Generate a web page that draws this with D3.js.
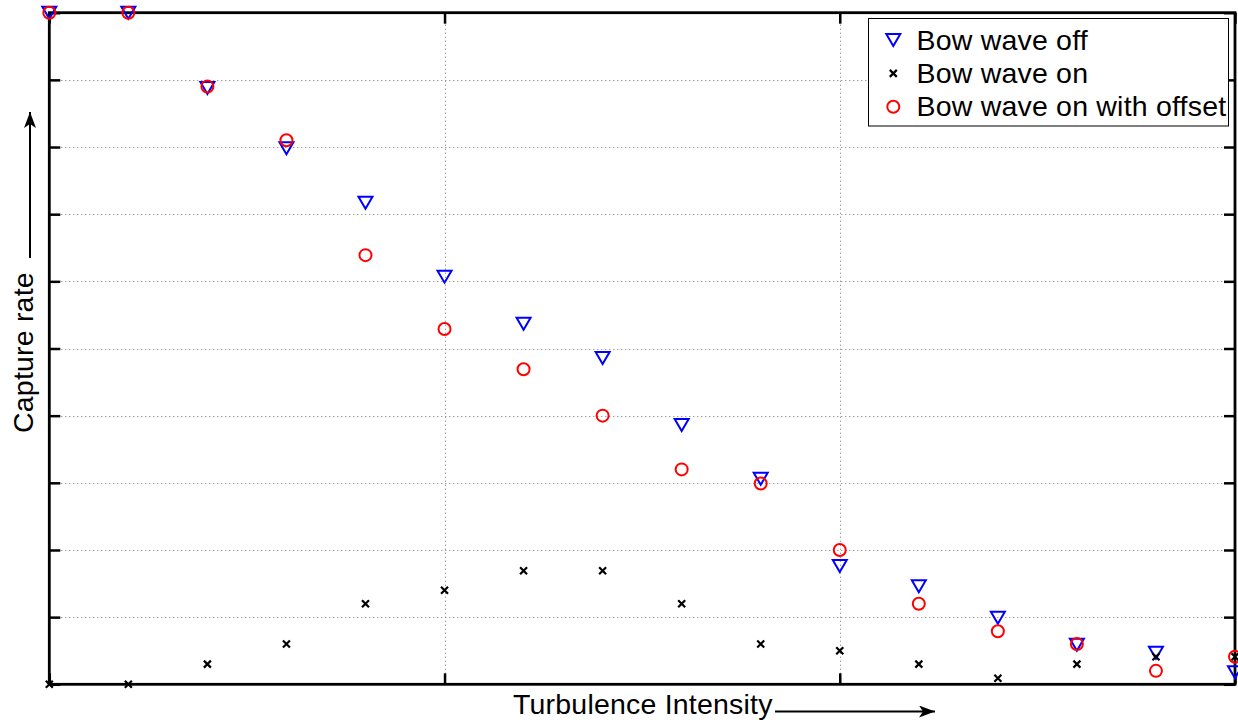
<!DOCTYPE html>
<html>
<head>
<meta charset="utf-8">
<script src="https://cdn.jsdelivr.net/npm/d3@7"></script>
<style>
  html, body { margin: 0; padding: 0; background: #fff; }
  svg { display: block; font-family: "Liberation Sans", Arial, Helvetica, sans-serif; }
  text { letter-spacing: 0.2px; }
</style>
</head>
<body>
<svg id="chart" width="1238" height="723"></svg>
<script>
// Capture rate against turbulence intensity, three bow-wave configurations
const steps = d3.range(16); // turbulence intensity steps
const bowWaveOff = [1.00, 1.00, 0.888, 0.798, 0.717, 0.607, 0.537, 0.486, 0.386, 0.306, 0.176, 0.146, 0.099, 0.059, 0.047, 0.018];
const bowWaveOn = [0.000, 0.000, 0.030, 0.060, 0.120, 0.140, 0.169, 0.169, 0.120, 0.060, 0.050, 0.030, 0.009, 0.030, 0.041, 0.041];
const bowWaveOffset = [1.00, 1.00, 0.890, 0.810, 0.639, 0.529, 0.469, 0.400, 0.320, 0.299, 0.200, 0.120, 0.079, 0.060, 0.020, 0.041];
const xTicks = [0, 5, 10, 15];
const yTicks = d3.range(0, 11).map(d => d / 10);
const seriesNames = ["Bow wave off", "Bow wave on", "Bow wave on with offset"];

const svg = d3.select("#chart");
const plotL = 49.3, plotR = 1235, plotT = 12.7, plotB = 684.3;
const fontSize = 28.5;

const x = d3.scaleLinear().domain([0, 15]).range([plotL, plotR]);
const y = d3.scaleLinear().domain([0, 1]).range([plotB, plotT]);

// dotted grid
const grid = svg.append("g").attr("stroke", "#777").attr("stroke-width", 1).attr("stroke-dasharray", "1,3");
grid.selectAll("line.h").data(yTicks.slice(1, -1)).join("line")
  .attr("x1", plotL).attr("x2", plotR)
  .attr("y1", d => Math.round(y(d)) + 0.5).attr("y2", d => Math.round(y(d)) + 0.5);
grid.selectAll("line.v").data(xTicks.slice(1, -1)).join("line")
  .attr("y1", plotT).attr("y2", plotB)
  .attr("x1", d => Math.round(x(d)) + 0.5).attr("x2", d => Math.round(x(d)) + 0.5);

// axes with inward ticks on all four sides, no labels
const tickLen = 11;
const axL = d3.axisLeft(y).tickValues(yTicks).tickSize(-tickLen).tickFormat("");
const axR = d3.axisRight(y).tickValues(yTicks).tickSize(-tickLen).tickFormat("");
const axB = d3.axisBottom(x).tickValues(xTicks).tickSize(-tickLen).tickFormat("");
const axT = d3.axisTop(x).tickValues(xTicks).tickSize(-tickLen).tickFormat("");
function styleAxis(g) {
  g.select(".domain").remove();
  g.selectAll(".tick line").attr("stroke", "#000").attr("stroke-width", 2.5);
}
svg.append("g").attr("transform", `translate(${plotL},0)`).call(axL).call(styleAxis);
svg.append("g").attr("transform", `translate(${plotR},0)`).call(axR).call(styleAxis);
svg.append("g").attr("transform", `translate(0,${plotB})`).call(axB).call(styleAxis);
svg.append("g").attr("transform", `translate(0,${plotT})`).call(axT).call(styleAxis);
svg.append("rect")
  .attr("x", plotL).attr("y", plotT).attr("width", plotR - plotL).attr("height", plotB - plotT)
  .attr("fill", "none").attr("stroke", "#000").attr("stroke-width", 2.8);

// marker shapes
const triPath = "M-7,-6L7,-6L0,6Z";
const crossPath = "M-3.5,-3.5L3.5,3.5M-3.5,3.5L3.5,-3.5";
function drawTri(g) { g.append("path").attr("d", triPath).attr("fill", "none").attr("stroke", "#0000ff").attr("stroke-width", 2); }
function drawCross(g) { g.append("path").attr("d", crossPath).attr("fill", "none").attr("stroke", "#000").attr("stroke-width", 2.2); }
function drawCirc(g) { g.append("circle").attr("r", 6).attr("fill", "none").attr("stroke", "#ff0000").attr("stroke-width", 2); }
const drawers = [drawTri, drawCross, drawCirc];
const seriesData = [bowWaveOff, bowWaveOn, bowWaveOffset];

seriesData.forEach((vals, si) => {
  const g = svg.append("g");
  g.selectAll("g").data(steps).join("g")
    .attr("transform", i => `translate(${x(i)},${y(vals[i])})`)
    .each(function () { drawers[si](d3.select(this)); });
});

// legend
const lg = svg.append("g");
lg.append("rect").attr("x", 868.5).attr("y", 18.5).attr("width", 360).attr("height", 107.5)
  .attr("fill", "#fff").attr("stroke", "#000").attr("stroke-width", 1);
seriesNames.forEach((name, i) => {
  const cy = 40 + i * 33.4;
  const mg = lg.append("g").attr("transform", `translate(893.3,${cy})`);
  drawers[i](mg);
  lg.append("text").attr("x", 916.5).attr("y", cy + 9.5).attr("font-size", fontSize).attr("fill", "#000").text(name);
});

// axis titles with arrows
svg.append("defs").append("marker")
  .attr("id", "arrow").attr("viewBox", "0 0 16 12").attr("refX", 16).attr("refY", 6)
  .attr("markerWidth", 16).attr("markerHeight", 12).attr("markerUnits", "userSpaceOnUse").attr("orient", "auto")
  .append("path").attr("d", "M0,0L16,6L0,12L4,6Z").attr("fill", "#000");

svg.append("text").attr("x", 513).attr("y", 714).attr("font-size", fontSize).attr("fill", "#000").text("Turbulence Intensity");
svg.append("line").attr("x1", 775).attr("y1", 711.5).attr("x2", 935).attr("y2", 711.5)
  .attr("stroke", "#000").attr("stroke-width", 2).attr("marker-end", "url(#arrow)");

svg.append("text").attr("transform", "translate(33,433) rotate(-90)").attr("font-size", fontSize).attr("fill", "#000").text("Capture rate");
svg.append("line").attr("x1", 30).attr("y1", 258).attr("x2", 30).attr("y2", 112)
  .attr("stroke", "#000").attr("stroke-width", 2).attr("marker-end", "url(#arrow)");
</script>
</body>
</html>
